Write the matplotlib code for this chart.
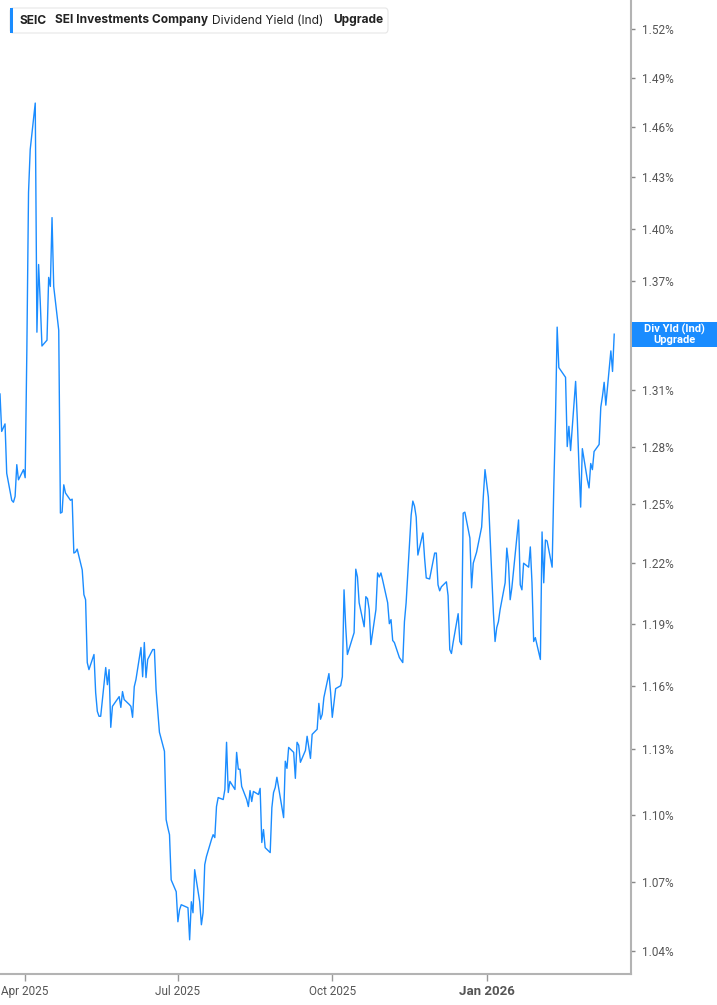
import numpy as np
import pandas as pd
import matplotlib
matplotlib.use("Agg")
import matplotlib.pyplot as plt
from matplotlib.ticker import FixedLocator, FixedFormatter, NullLocator
from matplotlib.patches import Rectangle, FancyBboxPatch
from pandas.tseries.holiday import USFederalHolidayCalendar
from pandas.tseries.offsets import CustomBusinessDay

# ---------------------------------------------------------
# Data: SEIC dividend yield (%), daily
# ---------------------------------------------------------
yield_pct = [
    1.308, 1.288, 1.290, 1.292, 1.266, 1.252, 1.251, 1.254, 1.2705, 1.2626,
    1.2679, 1.2637, 1.332, 1.4212, 1.4465, 1.4744, 1.3417, 1.3796, 1.3581, 1.3341,
    1.3373, 1.3723, 1.3672, 1.4065, 1.3672, 1.3428,
    1.2454, 1.2459, 1.260, 1.2558, 1.252, 1.2526, 1.2251, 1.2256, 1.2271, 1.2166,
    1.2043, 1.2018, 1.1711, 1.1677, 1.175, 1.1567, 1.1478, 1.1455, 1.1455, 1.1687,
    1.1605, 1.1677, 1.1403, 1.1502, 1.1548, 1.1497, 1.1572, 1.1534, 1.1511, 1.1502,
    1.145, 1.1595, 1.1629, 1.1784, 1.1643, 1.1808, 1.1639, 1.1726, 1.1774, 1.1774,
    1.1581,
    1.138, 1.1291, 1.0978, 1.0942, 1.091, 1.0709, 1.0657, 1.0526, 1.0578, 1.060,
    1.0587, 1.0448, 1.0613, 1.0565, 1.0754, 1.0613, 1.0513, 1.0565, 1.0776, 1.0812,
    1.0888, 1.091, 1.0897, 1.1037, 1.1078, 1.1069, 1.1115, 1.1333, 1.1101, 1.1152,
    1.1115, 1.1286, 1.1208, 1.1208, 1.1129, 1.1069,
    1.1037, 1.111, 1.106, 1.1106, 1.1092, 1.112, 1.0875, 1.0933, 1.0852, 1.083,
    1.1032, 1.1101, 1.1124, 1.1171, 1.0987, 1.1245, 1.1212, 1.1309, 1.1286, 1.1166,
    1.1333, 1.1319, 1.124, 1.1295, 1.1361, 1.1309, 1.1258, 1.137, 1.1394, 1.1516,
    1.1441, 1.1464, 1.1544, 1.1658, 1.1567, 1.145, 1.152, 1.1586, 1.160, 1.1643,
    1.2067, 1.1885, 1.175, 1.1856, 1.217, 1.2131, 1.2003, 1.1885, 1.2033, 1.2023,
    1.1969, 1.1798, 1.1969, 1.2151, 1.2131, 1.2151, 1.2116, 1.2003, 1.190, 1.192,
    1.1818, 1.1808, 1.1735, 1.1711, 1.191, 1.2003,
    1.2444, 1.2516, 1.249, 1.2434, 1.2241, 1.2353, 1.2226, 1.2126, 1.2121, 1.2251,
    1.2251, 1.2092, 1.2062, 1.2082, 1.2107, 1.2038, 1.1774, 1.1755, 1.1808, 1.1949,
    1.1813, 1.1798,
    1.2454, 1.2459, 1.2327, 1.2077, 1.220, 1.2256, 1.2383, 1.254, 1.2679, 1.2537,
    1.1954, 1.1813, 1.1881, 1.191, 1.1969, 1.2102, 1.2276, 1.220, 1.2018, 1.2077,
    1.2419, 1.2092, 1.2067,
    1.220, 1.218, 1.2282, 1.2102, 1.1813, 1.1832, 1.1726, 1.2358, 1.2102, 1.2317,
    1.2312, 1.218, 1.259, 1.2945, 1.3445, 1.3223, 1.317, 1.280, 1.2907, 1.2779,
    1.3148, 1.2945, 1.2695, 1.2485, 1.2789, 1.2626, 1.2584, 1.2711, 1.2679, 1.2774,
    1.2811, 1.3009, 1.3068, 1.3143, 1.302, 1.3314, 1.3202, 1.3406,
]

tick_values = [1.04, 1.07, 1.10, 1.13, 1.16, 1.19, 1.22, 1.25, 1.28, 1.31,
               1.34, 1.37, 1.40, 1.43, 1.46, 1.49, 1.52]
month_ticks = ["2025-04-01", "2025-07-01", "2025-10-01", "2026-01-01"]
month_labels = ["Apr 2025", "Jul 2025", "Oct 2025", "Jan 2026"]

bday = CustomBusinessDay(calendar=USFederalHolidayCalendar())
dates = pd.date_range(start="2025-03-17", periods=len(yield_pct), freq=bday)

BLUE = "#1a8cff"
GREY = "#b3b3b3"
TXT = "#555555"

plt.rcParams["font.family"] = ["Roboto", "DejaVu Sans"]

W, H = 717, 1005
fig = plt.figure(figsize=(W / 100, H / 100), dpi=100)
ax = fig.add_axes([0, 1 - 974 / H, 631 / W, 974 / H])

ax.plot(dates, yield_pct, color=BLUE, linewidth=1.0)

ax.set_yscale("log")
ax.set_ylim(1.0302, 1.5383)
ax.set_xlim(pd.Timestamp("2025-03-17"), pd.Timestamp("2026-03-28"))

# the 1.34% label sits under the last-value badge, so it stays blank
ylabels = ["" if abs(v - 1.34) < 1e-9 else f"{v:.2f}%" for v in tick_values]
ax.yaxis.set_major_locator(FixedLocator(tick_values))
ax.yaxis.set_major_formatter(FixedFormatter(ylabels))
ax.yaxis.set_minor_locator(NullLocator())
ax.yaxis.tick_right()
ax.tick_params(axis="y", which="major", direction="out", length=3, width=1,
               color="#888888", labelcolor=TXT, labelsize=8.5, pad=5)

ax.set_xticks(pd.to_datetime(month_ticks))
ax.set_xticklabels(month_labels)
ax.tick_params(axis="x", direction="out", length=5, width=1, color="#999999",
               labelcolor=TXT, labelsize=8.5, pad=3)
ax.get_xticklabels()[3].set_fontweight("bold")
ax.get_xticklabels()[3].set_fontsize(9.5)

for side in ["top", "left"]:
    ax.spines[side].set_visible(False)
for side in ["right", "bottom"]:
    ax.spines[side].set_color(GREY)
    ax.spines[side].set_linewidth(1.5)

# header box
def fx(px):
    return px / W

def fy(py):
    return 1 - py / H

box = FancyBboxPatch((fx(10), fy(33)), fx(388) - fx(10), fy(8) - fy(33),
                     boxstyle="round,pad=0,rounding_size=0.004",
                     transform=fig.transFigure, facecolor="white",
                     edgecolor="#e6e6e6", linewidth=0.8, zorder=5)
fig.patches.append(box)
fig.patches.append(Rectangle((fx(10), fy(33)), fx(3), fy(8) - fy(33),
                             transform=fig.transFigure, facecolor=BLUE,
                             edgecolor="none", zorder=6))
hdr = dict(fontsize=8.6, color="#222222", va="center", family=["Inter", "DejaVu Sans"], zorder=7)
fig.text(fx(20), fy(20.5), "SEIC", fontweight="bold", **hdr)
fig.text(fx(55), fy(20.5), "SEI Investments Company", fontweight="bold", **hdr)
fig.text(fx(212), fy(20.5), "Dividend Yield (Ind)", **hdr)
fig.text(fx(333), fy(20.5), "Upgrade", fontweight="bold", **hdr)

# last value label
fig.patches.append(Rectangle((fx(632), fy(347)), fx(717) - fx(632), fy(322) - fy(347),
                             transform=fig.transFigure, facecolor=BLUE,
                             edgecolor="none", zorder=6))
fig.text(fx(674), fy(334.5), "Div Yld (Ind)\nUpgrade", color="white", fontsize=8,
         fontweight="bold", ha="center", va="center", linespacing=0.95, zorder=7)

fig.savefig("out.png", dpi=100)
